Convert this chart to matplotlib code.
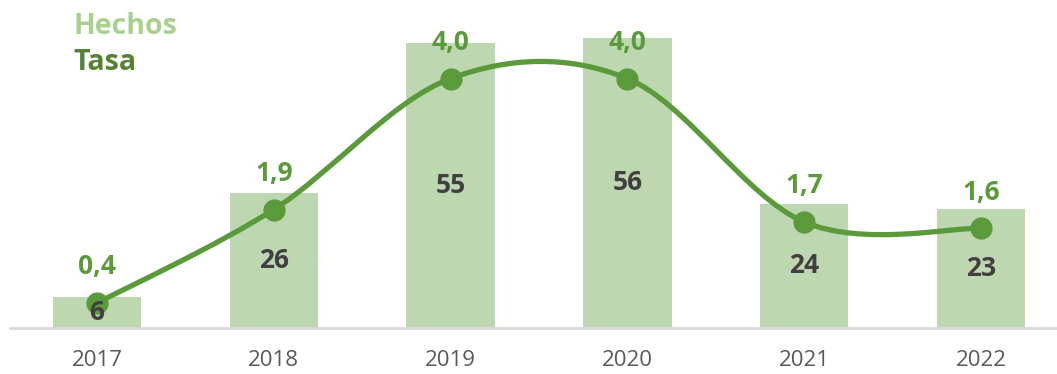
import matplotlib.pyplot as plt
import numpy as np
from matplotlib.path import Path
from matplotlib.patches import PathPatch

years = ["2017", "2018", "2019", "2020", "2021", "2022"]
hechos = [6, 26, 55, 56, 24, 23]
tasa = [0.4, 1.9, 4.0, 4.0, 1.7, 1.6]
tasa_labels = ["0,4", "1,9", "4,0", "4,0", "1,7", "1,6"]

bar_color = "#bdd7b1"
line_color = "#5b9a3a"

plt.rcParams["font.family"] = ["Open Sans", "DejaVu Sans"]

fig = plt.figure(figsize=(10.57, 3.74), dpi=100)
ax = fig.add_axes([10 / 1057, 46 / 374, 1047 / 1057, 328 / 374])
x = np.arange(len(years))

ax.bar(x, hechos, width=0.5, color=bar_color, zorder=1)
ax.set_xlim(-0.492, 5.43)
ax.set_ylim(0, 63.3)

ax.set_xticks(x)
ax.set_xticklabels(years, fontsize=16, color="#595959")
ax.tick_params(axis="x", length=0, pad=16)
ax.set_yticks([])
for s in ["top", "right", "left"]:
    ax.spines[s].set_visible(False)
ax.spines["bottom"].set_color("#d9d9d9")
ax.spines["bottom"].set_linewidth(2)

# smoothed line (excel style) on second axis
ax2 = ax.twinx()
ax2.set_ylim(0, 5.26)
ax2.axis("off")
pts = np.column_stack([x, tasa]).astype(float)
ext = np.vstack([pts[0], pts, pts[-1]])
verts = [pts[0]]
codes = [Path.MOVETO]
for i in range(len(pts) - 1):
    p0, p1, p2, p3 = ext[i], ext[i + 1], ext[i + 2], ext[i + 3]
    verts += [p1 + (p2 - p0) / 6, p2 - (p3 - p1) / 6, p2]
    codes += [Path.CURVE4] * 3
ax2.add_patch(PathPatch(Path(verts, codes), facecolor="none",
                        edgecolor=line_color, lw=3.8, zorder=3))
ax2.plot(x, tasa, "o", color=line_color, markersize=15, zorder=4)
for xi, v, lab in zip(x, tasa, tasa_labels):
    ax2.annotate(lab, (xi, v), xytext=(0, 26), textcoords="offset points",
                 ha="center", va="center", fontsize=19, fontweight="bold",
                 color=line_color)

# bar labels drawn on top of the line
for xi, v in zip(x, hechos):
    ax2.text(xi, v / 2, str(v), transform=ax.transData, ha="center",
             va="center", fontsize=19, fontweight="bold", color="#404040",
             zorder=5)

fig.text(73 / 1057, 1 - 27 / 374, "Hechos", fontsize=20.5, fontweight="bold",
         color="#a9d18e", va="center")
fig.text(73 / 1057, 1 - 63 / 374, "Tasa", fontsize=20.5, fontweight="bold",
         color="#548235", va="center")

fig.savefig("out.png", dpi=100)
